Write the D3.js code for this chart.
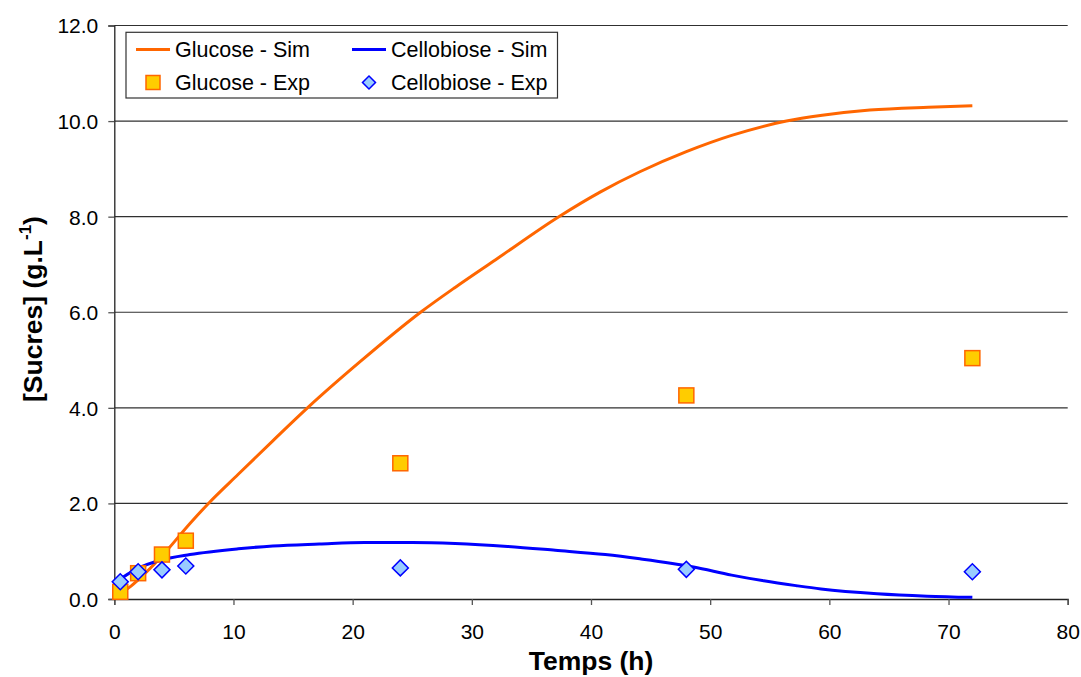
<!DOCTYPE html>
<html><head><meta charset="utf-8">
<script src="https://cdn.jsdelivr.net/npm/d3@7"></script>
<style>body{margin:0;background:#fff;}svg{display:block;font-family:"Liberation Sans",Arial,sans-serif;}</style>
</head><body>
<svg id="c" width="1081" height="677"></svg>
<script>
const xTicks = [0,10,20,30,40,50,60,70,80];
const yTicks = [0,2,4,6,8,10,12];
const glucoseSim = [[0,0.05],[1.4,0.27],[2,0.4],[4,0.9],[6.35,1.58],[7.9,2.0],[10.4,2.61],[13.3,3.31],[16.3,4.02],[20.6,4.96],[25.7,6.0],[28.6,6.52],[32,7.1],[37.3,8.0],[40.8,8.52],[44.1,8.94],[48,9.36],[51.8,9.7],[56.4,10.0],[59.4,10.12],[63.4,10.23],[68.3,10.29],[72,10.32]];
const cellobioseSim = [[0,0.3],[0.5,0.41],[2,0.64],[4,0.82],[6.35,0.93],[10.4,1.05],[13.3,1.11],[17.2,1.15],[21,1.18],[25,1.18],[28.6,1.16],[33,1.10],[37,1.02],[41.2,0.93],[44.1,0.84],[48.6,0.67],[51.8,0.50],[54.5,0.38],[57.2,0.28],[59.3,0.21],[64,0.11],[68.2,0.06],[72,0.035]];
const glucoseExp = [[0.5,0.15],[2,0.54],[4,0.93],[6,1.22],[24,2.84],[48,4.26],[72,5.04]];
const cellobioseExp = [[0.5,0.36],[2,0.57],[4,0.61],[6,0.69],[24,0.65],[48,0.62],[72,0.57]];
const legendLabels = ["Glucose - Sim","Cellobiose - Sim","Glucose - Exp","Cellobiose - Exp"];

const svg = d3.select("#c");
const x = d3.scaleLinear().domain([0,80]).range([114.3,1067.7]);
const y = d3.scaleLinear().domain([0,12]).range([599,25.5]);
const orange = "#FF6600", blue = "#0000FF";

// gridlines
svg.append("g").selectAll("line").data(yTicks.filter(d=>d>0)).join("line")
  .attr("x1",x(0)).attr("x2",x(80)).attr("y1",d=>y(d)).attr("y2",d=>y(d))
  .attr("stroke","#303030").attr("stroke-width",1.2);

// axes
const xa = svg.append("g").attr("transform",`translate(0,${y(0)})`)
  .call(d3.axisBottom(x).tickValues(xTicks).tickSize(6).tickPadding(19).tickFormat(d3.format("d")));
const ya = svg.append("g").attr("transform",`translate(${x(0)},0)`)
  .call(d3.axisLeft(y).tickValues(yTicks).tickSize(6).tickPadding(10).tickFormat(d3.format(".1f")));
[xa,ya].forEach(a=>{
  a.select(".domain").attr("stroke","#222").attr("stroke-width",1.3);
  a.selectAll(".tick line").attr("stroke","#555").attr("stroke-width",1.3);
  a.selectAll("text").attr("font-size","21px").attr("fill","#000").attr("font-family","Liberation Sans, Arial, sans-serif");
});
ya.selectAll("text").attr("dy","0.35em");

// lines
const line = d3.line().x(d=>x(d[0])).y(d=>y(d[1])).curve(d3.curveMonotoneX);
svg.append("path").datum(glucoseSim).attr("d",line).attr("fill","none").attr("stroke",orange).attr("stroke-width",3);
svg.append("path").datum(cellobioseSim).attr("d",line).attr("fill","none").attr("stroke",blue).attr("stroke-width",3);

// markers
const sq = 15;
svg.append("g").selectAll("rect").data(glucoseExp).join("rect")
  .attr("x",d=>x(d[0])-sq/2).attr("y",d=>y(d[1])-sq/2).attr("width",sq).attr("height",sq)
  .attr("fill","#FFCC00").attr("stroke",orange).attr("stroke-width",1.5);
const dm = 8;
const diamond = d3.symbol().type(d3.symbolSquare).size(2*dm*dm);
svg.append("g").selectAll("path").data(cellobioseExp).join("path")
  .attr("d",diamond()).attr("transform",d=>`translate(${x(d[0])},${y(d[1])}) rotate(45)`)
  .attr("fill","#99CCFF").attr("stroke",blue).attr("stroke-width",1.5);

// legend
const lg = svg.append("g");
lg.append("rect").attr("x",126).attr("y",32.3).attr("width",431.5).attr("height",65.7)
  .attr("fill","#fff").attr("stroke","#333").attr("stroke-width",1.2);
const cols = [136,352], rows = [49.5,82.5];
const items = [
  {t:legendLabels[0],c:0,r:0,k:"line",col:orange},
  {t:legendLabels[1],c:1,r:0,k:"line",col:blue},
  {t:legendLabels[2],c:0,r:1,k:"sq"},
  {t:legendLabels[3],c:1,r:1,k:"dm"}];
items.forEach(it=>{
  const lx = cols[it.c], ly = rows[it.r];
  if(it.k==="line"){
    lg.append("line").attr("x1",lx).attr("x2",lx+34).attr("y1",ly).attr("y2",ly).attr("stroke",it.col).attr("stroke-width",3);
  } else if(it.k==="sq"){
    lg.append("rect").attr("x",lx+17-7).attr("y",ly-7).attr("width",14).attr("height",14).attr("fill","#FFCC00").attr("stroke",orange).attr("stroke-width",1.5);
  } else {
    lg.append("path").attr("d",d3.symbol().type(d3.symbolSquare).size(2*6.5*6.5)()).attr("transform",`translate(${lx+17},${ly}) rotate(45)`).attr("fill","#99CCFF").attr("stroke",blue).attr("stroke-width",1.5);
  }
  lg.append("text").attr("x",lx+39).attr("y",ly).attr("dy","0.36em").attr("font-size","21.5px").text(it.t);
});

// axis titles
svg.append("text").attr("x",591).attr("y",670).attr("text-anchor","middle").attr("font-weight","bold").attr("font-size","26.5px").text("Temps (h)");
const yt = svg.append("text").attr("transform","translate(42,309) rotate(-90)").attr("text-anchor","middle").attr("font-weight","bold").attr("font-size","26.5px");
yt.append("tspan").text("[Sucres] (g.L");
yt.append("tspan").attr("font-size","17px").attr("dy","-11").text("-1");
yt.append("tspan").attr("dy","11").text(")");
</script>
</body></html>
